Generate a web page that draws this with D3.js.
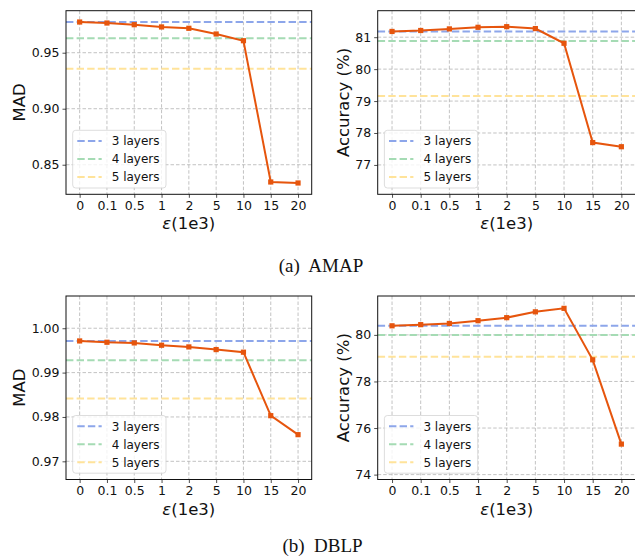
<!DOCTYPE html>
<html>
<head>
<meta charset="utf-8">
<script src="https://cdn.jsdelivr.net/npm/d3@7"></script>
<style>
  body { margin: 0; background: #fff; }
  svg { display: block; }
</style>
</head>
<body>
<div id="chart"></div>
<script>
// x categories (epsilon, in 1e3)
const epsLabels = ["0", "0.1", "0.5", "1", "2", "5", "10", "15", "20"];
const layerNames = ["3 layers", "4 layers", "5 layers"];
const layerColors = ["#8da6ea", "#a5dbb4", "#ffe39a"];

// AMAP
const amapMad = [0.9774, 0.9765, 0.9750, 0.9730, 0.9718, 0.9667, 0.9607, 0.8346, 0.8337];
const amapMadLayers = [0.9774, 0.9629, 0.9357];
const amapMadTicks = [0.85, 0.90, 0.95];
const amapAcc = [81.18, 81.21, 81.26, 81.31, 81.33, 81.27, 80.81, 77.70, 77.57];
const amapAccLayers = [81.18, 80.88, 79.16];
const amapAccTicks = [77, 78, 79, 80, 81];

// DBLP
const dblpMad = [0.99714, 0.99684, 0.99669, 0.99617, 0.99579, 0.99519, 0.99460, 0.98029, 0.97601];
const dblpMadLayers = [0.99714, 0.99279, 0.98417];
const dblpMadTicks = [0.97, 0.98, 0.99, 1.00];
const dblpAcc = [80.39, 80.44, 80.49, 80.61, 80.74, 80.99, 81.14, 78.93, 75.31];
const dblpAccLayers = [80.39, 79.99, 79.06];
const dblpAccTicks = [74, 76, 78, 80];

const W = 635, H = 559;
const svg = d3.select("#chart").append("svg").attr("width", W).attr("height", H);

const panels = [
    { values: amapMad, layers: amapMadLayers, ticks: amapMadTicks, fmt: d3.format(".2f"),
      domain: [0.8236, 0.9875], ylabel: "MAD", labelGap: 41, box: [66, 311.7, 10.7, 194.3] },
    { values: amapAcc, layers: amapAccLayers, ticks: amapAccTicks, fmt: d3.format("d"),
      domain: [76.08, 81.83], ylabel: "Accuracy (%)", labelGap: 29, box: [377.7, 635.7, 10.7, 194.3] },
    { values: dblpMad, layers: dblpMadLayers, ticks: dblpMadTicks, fmt: d3.format(".2f"),
      domain: [0.9659, 1.00727], ylabel: "MAD", labelGap: 41, box: [66, 311.7, 296, 479.5] },
    { values: dblpAcc, layers: dblpAccLayers, ticks: dblpAccTicks, fmt: d3.format("d"),
      domain: [73.79, 81.67], ylabel: "Accuracy (%)", labelGap: 29, box: [377.7, 635.7, 296, 479.5] },
];

const FONT = "'DejaVu Sans', sans-serif";

function drawPanel(p) {
    const [x0, x1, y0, y1] = p.box;
    const x = d3.scalePoint().domain(epsLabels).range([x0, x1]).padding(0.5);
    const y = d3.scaleLinear().domain(p.domain).range([y1, y0]);
    const g = svg.append("g");

    // grid
    const grid = g.append("g").attr("stroke", "#b4b4b4").attr("stroke-width", 0.8)
        .attr("stroke-dasharray", "3.5 2");
    grid.selectAll("line.gx").data(epsLabels).join("line")
        .attr("x1", d => x(d)).attr("x2", d => x(d)).attr("y1", y0).attr("y2", y1);
    grid.selectAll("line.gy").data(p.ticks).join("line")
        .attr("x1", x0).attr("x2", x1).attr("y1", d => y(d)).attr("y2", d => y(d));

    // reference lines for deeper models
    g.selectAll("line.ref").data(p.layers).join("line")
        .attr("x1", x0).attr("x2", x1)
        .attr("y1", d => y(d)).attr("y2", d => y(d))
        .attr("stroke", (d, i) => layerColors[i]).attr("stroke-width", 2)
        .attr("stroke-dasharray", "7.4 3.2");

    // main line + markers
    const line = d3.line().x((d, i) => x(epsLabels[i])).y(d => y(d));
    g.append("path").datum(p.values).attr("d", line)
        .attr("fill", "none").attr("stroke", "#e6550d").attr("stroke-width", 2);
    g.selectAll("rect.mk").data(p.values).join("rect")
        .attr("x", (d, i) => x(epsLabels[i]) - 2.6).attr("y", d => y(d) - 2.6)
        .attr("width", 5.2).attr("height", 5.2).attr("fill", "#e6550d");

    // axes
    const xAxis = g.append("g").attr("transform", `translate(0,${y1})`)
        .call(d3.axisBottom(x).tickSize(3.5).tickPadding(3.5));
    const yAxis = g.append("g").attr("transform", `translate(${x0},0)`)
        .call(d3.axisLeft(y).tickValues(p.ticks).tickFormat(p.fmt).tickSize(3.5).tickPadding(3));
    [xAxis, yAxis].forEach(a => {
        a.select(".domain").remove();
        a.selectAll("text").attr("font-family", FONT).attr("font-size", 12.5).attr("fill", "#111");
        a.selectAll("line").attr("stroke", "#222").attr("stroke-width", 0.8);
    });

    // frame
    g.append("rect").attr("x", x0).attr("y", y0).attr("width", x1 - x0).attr("height", y1 - y0)
        .attr("fill", "none").attr("stroke", "#111").attr("stroke-width", 1);

    // labels
    g.append("text").attr("x", (x0 + x1) / 2).attr("y", y1 + 35)
        .attr("text-anchor", "middle").attr("font-family", FONT).attr("font-size", 16.5).attr("fill", "#111")
        .call(t => {
            t.append("tspan").attr("font-style", "italic").text("ε");
            t.append("tspan").text("(1e3)");
        });
    g.append("text")
        .attr("transform", `translate(${x0 - p.labelGap},${(y0 + y1) / 2}) rotate(-90)`)
        .attr("text-anchor", "middle").attr("font-family", FONT).attr("font-size", 16.5).attr("fill", "#111")
        .text(p.ylabel);

    // legend
    const lg = g.append("g").attr("transform", `translate(${x0 + 6.7},${y1 - 64})`);
    lg.append("rect").attr("width", 93.3).attr("height", 57.7).attr("rx", 3)
        .attr("fill", "#fff").attr("fill-opacity", 0.8).attr("stroke", "#d4d4d4").attr("stroke-width", 0.8);
    const item = lg.selectAll("g.item").data(layerNames).join("g")
        .attr("transform", (d, i) => `translate(0,${10.7 + i * 18})`);
    item.append("line").attr("x1", 4.6).attr("x2", 29).attr("y1", 0).attr("y2", 0)
        .attr("stroke", (d, i) => layerColors[i]).attr("stroke-width", 2).attr("stroke-dasharray", "7.4 3.2");
    item.append("text").attr("x", 39).attr("y", 4.3)
        .attr("font-family", FONT).attr("font-size", 12).attr("fill", "#111").text(d => d);
}

panels.forEach(drawPanel);

// sub-captions
svg.append("text").attr("x", 321).attr("y", 271.7).attr("text-anchor", "middle")
    .attr("font-family", "'Liberation Serif', serif").attr("font-size", 19).attr("fill", "#111")
    .attr("xml:space", "preserve").text("(a)  AMAP");
svg.append("text").attr("x", 322.5).attr("y", 551.7).attr("text-anchor", "middle")
    .attr("font-family", "'Liberation Serif', serif").attr("font-size", 19).attr("fill", "#111")
    .attr("xml:space", "preserve").text("(b)  DBLP");
</script>
</body>
</html>
